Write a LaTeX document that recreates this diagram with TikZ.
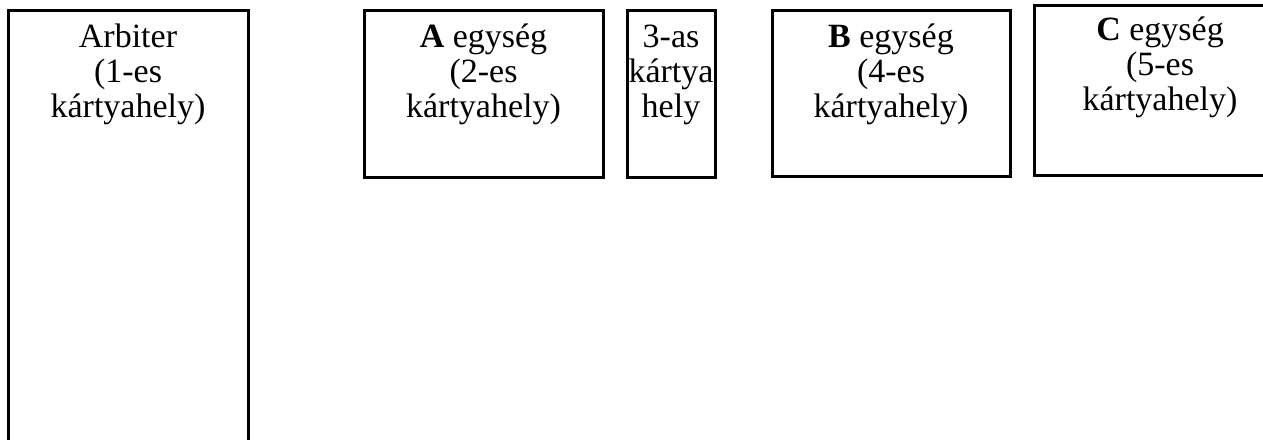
\documentclass[tikz,border=0pt]{standalone}
\usepackage{fontspec}
\setmainfont{Liberation Serif}
\begin{document}
\begin{tikzpicture}[x=1pt,y=-1pt,
  slot/.style={draw=black,line width=3pt,inner sep=0pt,outer sep=0pt,anchor=north west},
  slottext/.style={anchor=base,align=center,inner sep=0pt,
    font=\fontsize{34}{35}\selectfont}]
\useasboundingbox[fill=white] (0,0) rectangle (1263,439);
% card slots
\node[slot,minimum width=240pt,minimum height=440pt] (arb) at (8,10) {};
\node[slot,minimum width=239pt,minimum height=167pt] (a) at (364,10) {};
\node[slot,minimum width=88pt,minimum height=167pt] (s3) at (627,10) {};
\node[slot,minimum width=238pt,minimum height=166pt] (b) at (772,10) {};
\node[slot,minimum width=240pt,minimum height=170pt] (c) at (1034,5) {};
% labels, placed by the baseline of their last line
\node[slottext] (arbt) at ([yshift=-107pt]arb.north) {Arbiter\\(1-es\\kártyahely)};
\node[slottext] (at) at ([yshift=-107pt]a.north) {\textbf{A} egység\\(2-es\\kártyahely)};
\node[slottext] (s3t) at ([yshift=-107pt]s3.north) {3-as\\kártya\\hely};
\node[slottext] (bt) at ([yshift=-107pt]b.north) {\textbf{B} egység\\(4-es\\kártyahely)};
\node[slottext] (ct) at ([xshift=126pt,yshift=-105pt]c.north west) {\textbf{C} egység\\(5-es\\kártyahely)};
\end{tikzpicture}
\end{document}
